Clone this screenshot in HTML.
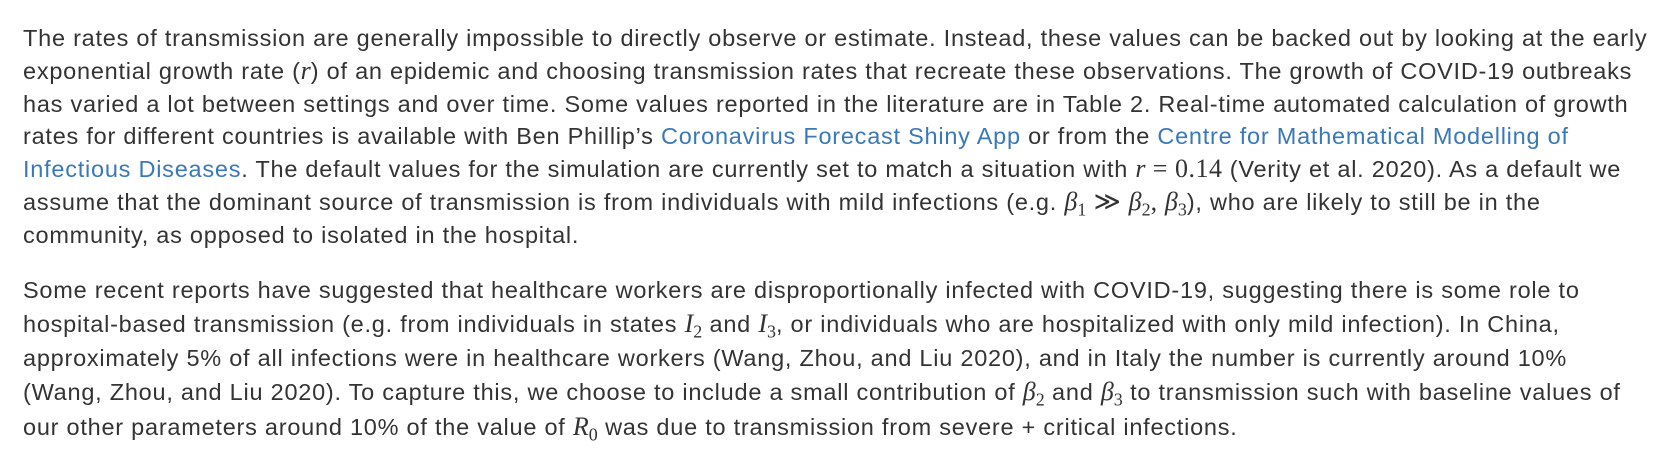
<!DOCTYPE html>
<html><head><meta charset="utf-8"><style>
html,body{margin:0;padding:0;background:#fff;width:1680px;height:450px;overflow:hidden}
body{font-family:"Liberation Sans",Arial,sans-serif;font-size:23.5px;letter-spacing:0.76px;color:#333;line-height:32.8px}
p{position:absolute;left:23px;margin:0;white-space:nowrap}
#p1{top:22px}#p2{top:274px;line-height:33.4px}
a{color:#3a78b8;text-decoration:none}
.m{font-family:"Liberation Serif","DejaVu Serif",serif;font-style:italic;font-size:26px;letter-spacing:0}
.n{font-family:"Liberation Serif","DejaVu Serif",serif;font-size:26px;letter-spacing:0.5px}
sub{font-size:18px;line-height:0;font-style:normal;font-family:"Liberation Serif",serif;letter-spacing:0}
</style></head><body>
<div>
<p id="p1">The rates of transmission are generally impossible to directly observe or estimate. Instead, these values can be backed out by looking at the early<br>exponential growth rate (<span class="m">r</span>) of an epidemic and choosing transmission rates that recreate these observations. The growth of COVID-19 outbreaks<br>has varied a lot between settings and over time. Some values reported in the literature are in Table 2. Real-time automated calculation of growth<br>rates for different countries is available with Ben Phillip’s <a href="#">Coronavirus Forecast Shiny App</a> or from the <a href="#">Centre for Mathematical Modelling of<br>Infectious Diseases</a>. The default values for the simulation are currently set to match a situation with <span class="m">r</span> <span class="n">= 0.14</span> (Verity et al. 2020). As a default we<br>assume that the dominant source of transmission is from individuals with mild infections (e.g. <span class="m">β</span><sub>1</sub> <span class="n">≫</span> <span class="m">β</span><sub>2</sub><span class="n">,</span> <span class="m">β</span><sub>3</sub>), who are likely to still be in the<br>community, as opposed to isolated in the hospital.</p>
<p id="p2">Some recent reports have suggested that healthcare workers are disproportionally infected with COVID-19, suggesting there is some role to<br>hospital-based transmission (e.g. from individuals in states <span class="m">I</span><sub>2</sub> and <span class="m">I</span><sub>3</sub>, or individuals who are hospitalized with only mild infection). In China,<br>approximately 5% of all infections were in healthcare workers (Wang, Zhou, and Liu 2020), and in Italy the number is currently around 10%<br>(Wang, Zhou, and Liu 2020). To capture this, we choose to include a small contribution of <span class="m">β</span><sub>2</sub> and <span class="m">β</span><sub>3</sub> to transmission such with baseline values of<br>our other parameters around 10% of the value of <span class="m">R</span><sub>0</sub> was due to transmission from severe + critical infections.</p>
</div>
</body></html>
